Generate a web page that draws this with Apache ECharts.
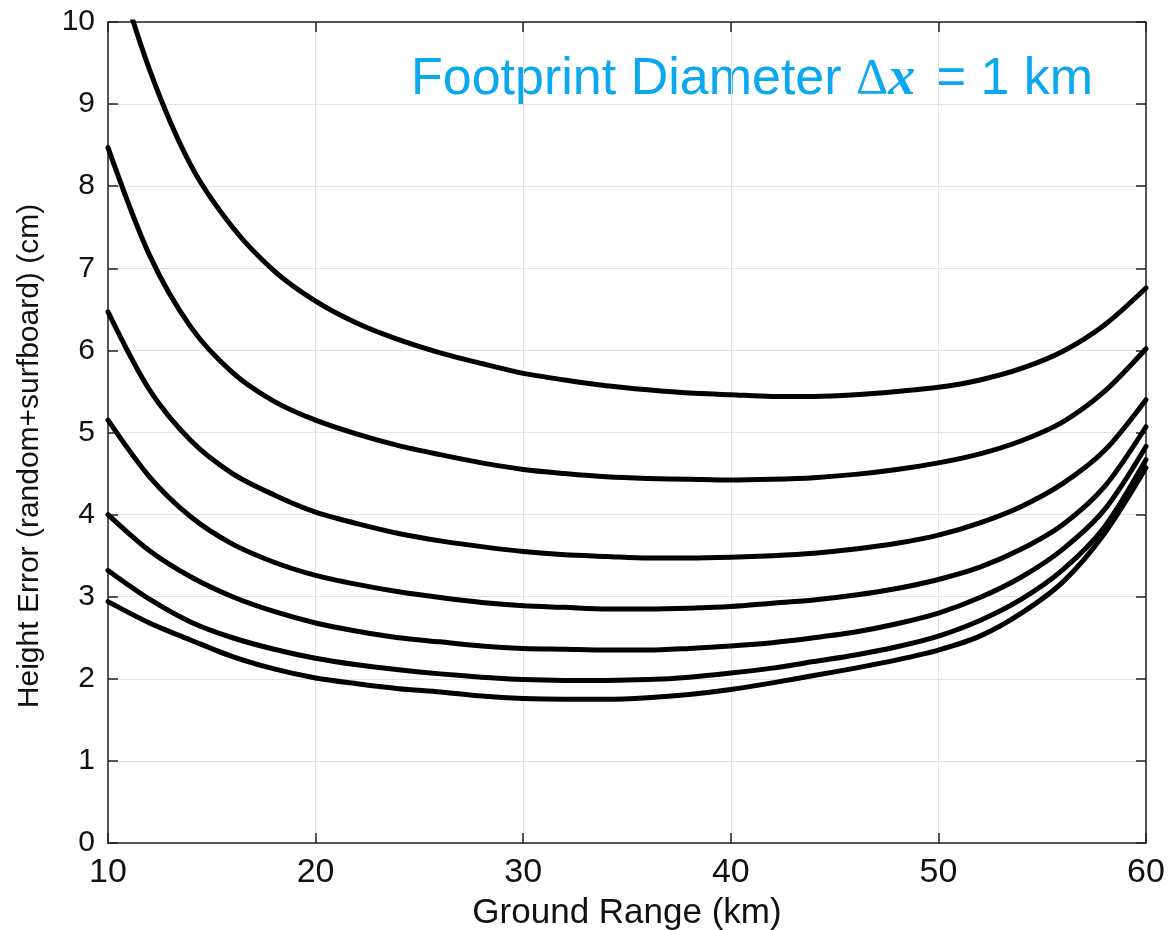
<!DOCTYPE html>
<html>
<head>
<meta charset="utf-8">
<script src="https://cdn.jsdelivr.net/npm/echarts@6/dist/echarts.min.js"></script>
<style>html,body{margin:0;padding:0;background:#fff;}#c{width:1169px;height:930px;}</style>
</head>
<body>
<div id="c"></div>
<script>
// Ground range sample points (km)
const xs = [10, 12, 14, 16, 18, 20, 22, 24, 26, 28, 30, 32, 34, 36, 38, 40, 42, 44, 46, 48, 50, 52, 54, 56, 58, 60];
// Height error curves (cm), top to bottom (curve1 at 10 km lies above the 10 cm frame and is clipped)
const curve1 = [11.0, 9.42, 8.25, 7.50, 6.97, 6.60, 6.33, 6.13, 5.97, 5.84, 5.72, 5.64, 5.57, 5.52, 5.48, 5.46, 5.44, 5.44, 5.46, 5.50, 5.55, 5.64, 5.78, 5.99, 6.31, 6.76];
const curve2 = [8.47, 7.16, 6.28, 5.73, 5.38, 5.15, 4.98, 4.84, 4.73, 4.63, 4.55, 4.50, 4.46, 4.44, 4.43, 4.42, 4.43, 4.45, 4.49, 4.55, 4.63, 4.74, 4.90, 5.13, 5.50, 6.02];
const curve3 = [6.47, 5.52, 4.90, 4.50, 4.24, 4.03, 3.89, 3.77, 3.68, 3.61, 3.55, 3.51, 3.49, 3.47, 3.47, 3.48, 3.50, 3.53, 3.58, 3.65, 3.75, 3.90, 4.10, 4.38, 4.78, 5.40];
const curve4 = [5.15, 4.46, 3.97, 3.64, 3.42, 3.26, 3.15, 3.06, 2.99, 2.93, 2.89, 2.87, 2.85, 2.85, 2.86, 2.88, 2.92, 2.96, 3.02, 3.10, 3.21, 3.36, 3.58, 3.88, 4.34, 5.07];
const curve5 = [4.00, 3.56, 3.24, 3.00, 2.82, 2.68, 2.58, 2.50, 2.45, 2.40, 2.37, 2.36, 2.35, 2.35, 2.37, 2.40, 2.44, 2.50, 2.57, 2.67, 2.80, 2.99, 3.24, 3.58, 4.06, 4.83];
const curve6 = [3.32, 2.97, 2.69, 2.50, 2.36, 2.25, 2.17, 2.11, 2.06, 2.02, 1.99, 1.98, 1.98, 1.99, 2.02, 2.07, 2.13, 2.21, 2.29, 2.39, 2.52, 2.71, 2.97, 3.33, 3.85, 4.67];
const curve7 = [2.94, 2.68, 2.47, 2.27, 2.12, 2.01, 1.94, 1.88, 1.84, 1.79, 1.76, 1.75, 1.75, 1.77, 1.81, 1.87, 1.95, 2.04, 2.13, 2.23, 2.35, 2.52, 2.80, 3.18, 3.77, 4.57];
const curves = [curve1, curve2, curve3, curve4, curve5, curve6, curve7];

const xTicks = [10, 20, 30, 40, 50, 60];
const yTicks = [0, 1, 2, 3, 4, 5, 6, 7, 8, 9, 10];
const xName = 'Ground Range (km)';
const yName = 'Height Error (random+surfboard) (cm)';

const FONT = '"Liberation Sans", Arial, Helvetica, sans-serif';
const SERIF = '"Liberation Serif", "DejaVu Serif", serif';
const axisCol = '#222';
const titleCol = '#0AA8EE';

const chart = echarts.init(document.getElementById('c'), null, {renderer: 'canvas'});

const series = curves.map(function (c, i) {
  const data = [];
  for (let k = 0; k < xs.length; k++) {
    if (c[k] !== null) data.push([xs[k], c[k]]);
  }
  return {
    type: 'line',
    name: 'c' + (i + 1),
    data: data,
    xAxisIndex: 0,
    yAxisIndex: 0,
    smooth: 0.3,
    showSymbol: false,
    symbol: 'none',
    clip: true,
    lineStyle: {color: '#000', width: 5, cap: 'round', join: 'round'},
    silent: true
  };
});

const baseTick = {show: true, inside: true, length: 10, lineStyle: {color: axisCol, width: 1.5}};

chart.setOption({
  animation: false,
  backgroundColor: '#fff',
  grid: {left: 108, right: 23, top: 22, bottom: 87, containLabel: false, outerBoundsMode: 'none'},
  xAxis: [
    {
      type: 'value', position: 'bottom',
      min: xTicks[0], max: xTicks[xTicks.length - 1], interval: 10,
      name: xName, nameLocation: 'middle', nameGap: 53,
      nameTextStyle: {fontFamily: FONT, fontSize: 35, color: '#111'},
      axisLine: {show: true, onZero: false, lineStyle: {color: axisCol, width: 1.5}},
      axisTick: baseTick,
      axisLabel: {fontFamily: FONT, fontSize: 34, color: '#111', margin: 13},
      splitLine: {show: true, lineStyle: {color: '#e3e3e3', width: 1}}
    },
    {
      type: 'value', position: 'top',
      min: xTicks[0], max: xTicks[xTicks.length - 1], interval: 10,
      axisLine: {show: true, onZero: false, lineStyle: {color: axisCol, width: 1.5}},
      axisTick: baseTick,
      axisLabel: {show: false},
      splitLine: {show: false}
    }
  ],
  yAxis: [
    {
      type: 'value', position: 'left',
      min: yTicks[0], max: yTicks[yTicks.length - 1], interval: 1,
      axisLine: {show: true, onZero: false, lineStyle: {color: axisCol, width: 1.5}},
      axisTick: baseTick,
      axisLabel: {fontFamily: FONT, fontSize: 30, color: '#111', margin: 13},
      splitLine: {show: true, lineStyle: {color: '#e3e3e3', width: 1}}
    },
    {
      type: 'value', position: 'right',
      min: yTicks[0], max: yTicks[yTicks.length - 1], interval: 1,
      axisLine: {show: true, onZero: false, lineStyle: {color: axisCol, width: 1.5}},
      axisTick: baseTick,
      axisLabel: {show: false},
      splitLine: {show: false}
    }
  ],
  graphic: [
    {
      type: 'text',
      x: 30,
      y: 456,
      rotation: Math.PI / 2,
      silent: true,
      style: {
        text: yName,
        fontFamily: FONT,
        fontSize: 30,
        fill: '#111',
        align: 'center',
        verticalAlign: 'middle'
      }
    },
    {
      type: 'text',
      left: 411,
      top: 53,
      silent: true,
      style: {
        text: '{a|Footprint Diameter }{d|Δ}{x|x}{a| = 1 km}',
        rich: {
          a: {fontFamily: FONT, fontSize: 52, fill: titleCol, color: titleCol},
          d: {fontFamily: SERIF, fontSize: 50, fill: titleCol, color: titleCol},
          x: {fontFamily: SERIF, fontStyle: 'italic', fontWeight: 'bold', fontSize: 54, fill: titleCol, color: titleCol, padding: [0, 6, 0, 0]}
        }
      }
    }
  ],
  series: series
});
</script>
</body>
</html>
